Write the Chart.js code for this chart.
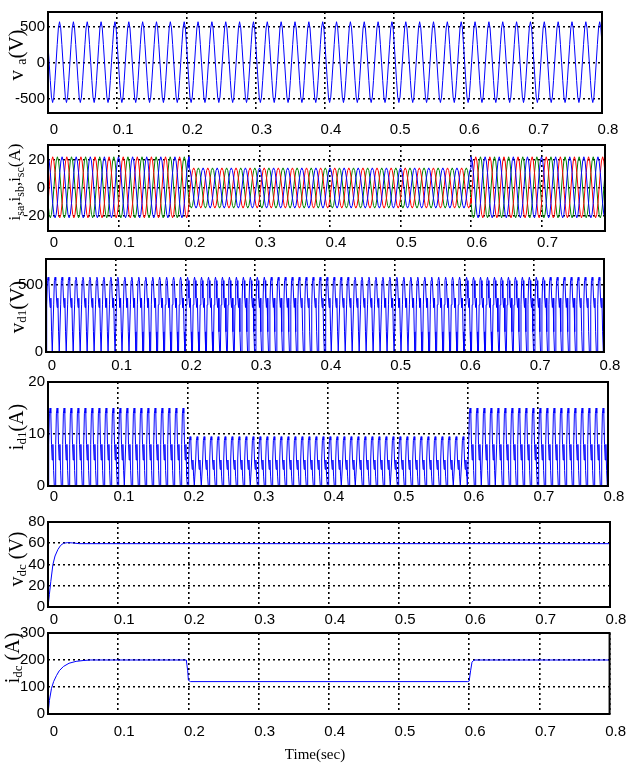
<!DOCTYPE html>
<html>
<head>
<meta charset="utf-8">
<script src="https://cdn.jsdelivr.net/npm/chart.js@4.4.1/dist/chart.umd.min.js"></script>
<style>
body { margin: 0; background: #fff; }
#wrap { position: relative; width: 629px; height: 766px; overflow: hidden; }
#wrap canvas { position: absolute; left: 0; }
#xlab { position: absolute; top: 746px; left: 0; width: 630px; text-align: center; font: 15px 'Liberation Serif', 'Times New Roman', serif; }
</style>
</head>
<body>
<div id="wrap">
  <canvas id="c1"></canvas>
  <canvas id="c2"></canvas>
  <canvas id="c3"></canvas>
  <canvas id="c4"></canvas>
  <canvas id="c5"></canvas>
  <canvas id="c6"></canvas>
  <div id="xlab">Time(sec)</div>
</div>
<script>
// ticks
var xTicks = [0, 0.1, 0.2, 0.3, 0.4, 0.5, 0.6, 0.7, 0.8];
var xTicksShort = [0, 0.1, 0.2, 0.3, 0.4, 0.5, 0.6, 0.7];

// v_a : one 20 ms cycle, 12 samples
var vaCycle = [0, 250, 480, 565, 480, 250, 0, -250, -480, -555, -480, -250];
var vaPhase = 5;
var vaTicks = [-500, 0, 500];

// isa, isb, isc : one 20 ms cycle, 12 samples, two load levels
var isCycleHigh = [0, 11, 19.5, 22.5, 19.5, 11, 0, -11, -19, -21.5, -19, -11];
var isCycleLow = [0, 7.3, 12.6, 14.5, 12.6, 7.3, 0, -7.3, -12.6, -14.5, -12.6, -7.3];
var isSegStart = [0, 0.2, 0.6];
var isSegEnd = [0.2, 0.6, 0.79];
var isSegLevel = ['high', 'low', 'high'];
var isPhase = [3, 11, 7]; // blue, red, green
var isTicks = [-20, 0, 20];

// v_d1 : one 10 ms cycle, 10 samples
var vd1Cycle = [0, 350, 530, 555, 530, 400, 330, 400, 150, 0];
var vd1Ticks = [0, 500];

// i_d1 : one 10 ms cycle, 10 samples, two load levels
var id1CycleHigh = [0, 8, 14, 15, 14, 8, 5, 8, 3, 0];
var id1CycleLow = [0, 5, 8.8, 9.5, 8.8, 5, 3.2, 5, 1.9, 0];
var id1SegStart = [0, 0.198, 0.598];
var id1SegEnd = [0.198, 0.598, 0.8];
var id1SegLevel = ['high', 'low', 'high'];
var id1Ticks = [0, 10, 20];

// v_dc
var vdcTime = [0, 0.002, 0.004, 0.007, 0.01, 0.014, 0.018, 0.022, 0.028, 0.035, 0.045, 0.8];
var vdcVal = [0, 12, 24, 40, 48, 54, 58, 60, 60.6, 60.3, 59.6, 59.6];
var vdcTicks = [0, 20, 40, 60, 80];

// i_dc
var idcTime = [0, 0.002, 0.005, 0.008, 0.012, 0.016, 0.022, 0.03, 0.04, 0.05, 0.06, 0.197, 0.199, 0.2, 0.203, 0.598, 0.6, 0.602, 0.604, 0.607, 0.8];
var idcVal = [0, 50, 95, 120, 142, 160, 176, 188, 195, 198, 200, 200, 160, 125, 120, 120, 122, 160, 192, 200, 200];
var idcTicks = [0, 100, 200, 300];

function tile(cycles, segStart, segEnd, segLevel, dt, phase) {
  var pts = [];
  for (var s = 0; s < segStart.length; s++) {
    var cyc = cycles[segLevel[s]];
    var i0 = Math.round(segStart[s] / dt), i1 = Math.round(segEnd[s] / dt);
    for (var i = i0; i <= i1; i++) {
      pts.push({x: i * dt, y: cyc[(i + phase) % cyc.length]});
    }
  }
  return pts;
}

function pairs(t, v) {
  return t.map(function (x, i) { return {x: x, y: v[i]}; });
}

var frame = {
  id: 'frame',
  afterDraw: function (chart) {
    var a = chart.chartArea, c = chart.ctx;
    c.save();
    c.strokeStyle = '#000';
    c.lineWidth = 2;
    c.strokeRect(a.left, a.top, a.right - a.left, a.bottom - a.top);
    c.restore();
  }
};

// y label with subscripts, rotated
var ylab = {
  id: 'ylab',
  afterDraw: function (chart, args, opts) {
    var c = chart.ctx, parts = opts.parts;
    if (!parts) return;
    c.save();
    c.translate(opts.cx, opts.cy);
    c.rotate(-Math.PI / 2);
    c.fillStyle = '#000';
    c.textBaseline = 'middle';
    var total = 0;
    parts.forEach(function (p) {
      c.font = p[1] + "px 'Liberation Serif', 'Times New Roman', serif";
      total += c.measureText(p[0]).width;
    });
    var x = -total / 2;
    parts.forEach(function (p) {
      c.font = p[1] + "px 'Liberation Serif', 'Times New Roman', serif";
      c.fillText(p[0], x, p[2] ? 5 : 0);
      x += c.measureText(p[0]).width;
    });
    c.restore();
  }
};

function makePanel(id, g, yMin, yMax, yTicks, xMax, xt, datasets, parts, lab) {
  var pad = Math.min(16, g.T);
  var cv = document.getElementById(id);
  cv.width = 629;
  cv.height = g.B - g.T + pad + 28;
  cv.style.top = (g.T - pad) + 'px';
  var top = g.T - pad;
  var fnt = {family: "'Liberation Sans', Arial, sans-serif", size: 15};
  return new Chart(cv.getContext('2d'), {
    type: 'line',
    data: {datasets: datasets},
    options: {
      responsive: false,
      animation: false,
      layout: {padding: {top: pad, right: 629 - g.R, left: 0, bottom: 0}},
      elements: {point: {radius: 0}, line: {borderWidth: 1, tension: 0}},
      plugins: {
        legend: {display: false},
        tooltip: {enabled: false},
        ylab: {parts: parts, cx: lab[0], cy: lab[1] - top}
      },
      scales: {
        x: {
          type: 'linear', min: 0, max: xMax,
          afterBuildTicks: function (s) { s.ticks = xt.map(function (v) { return {value: v}; }); },
          afterFit: function (s) { s.height = 28; },
          grid: {color: '#000', lineWidth: 1.6, drawTicks: false},
          border: {display: false, dash: [2, 3]},
          ticks: {color: '#000', font: fnt, padding: g.xPad, labelOffset: 6, maxRotation: 0, autoSkip: false,
            callback: function (v) { return String(+v.toFixed(1)); }}
        },
        y: {
          min: yMin, max: yMax,
          afterBuildTicks: function (s) { s.ticks = yTicks.map(function (v) { return {value: v}; }); },
          afterFit: function (s) { s.width = g.L; },
          grid: {color: '#000', lineWidth: 1.6, drawTicks: false},
          border: {display: false, dash: [2, 3]},
          ticks: {color: '#000', font: fnt, padding: 3, autoSkip: false}
        }
      }
    },
    plugins: [frame, ylab]
  });
}

var dtA = 0.02 / 12;
var dtD = 0.001;

makePanel('c1', {L: 48, R: 602, T: 10, B: 113, xPad: 8}, -700, 700, vaTicks, 0.8, xTicks,
  [{data: tile({a: vaCycle}, [0], [0.8], ['a'], dtA, vaPhase), borderColor: '#0000ff'}],
  [['v ', 21, 0], ['a', 14, 1], ['(V)', 21, 0]], [17, 55]);

var isColors = ['#0000ff', '#ff0000', '#008000'];
makePanel('c2', {L: 48, R: 605, T: 145, B: 231, xPad: 3}, -31, 31, isTicks, 0.79, xTicksShort,
  isPhase.map(function (ph, k) {
    return {data: tile({high: isCycleHigh, low: isCycleLow}, isSegStart, isSegEnd, isSegLevel, dtA, ph), borderColor: isColors[k]};
  }),
  [['i', 17, 0], ['sa', 12, 1], [',', 17, 0], ['i', 17, 0], ['sb', 12, 1], [',', 17, 0], ['i', 17, 0], ['sc', 12, 1], ['(A)', 17, 0]], [16, 182]);

makePanel('c3', {L: 46, R: 604, T: 259, B: 352, xPad: 5}, 0, 690, vd1Ticks, 0.8, xTicks,
  [{data: tile({a: vd1Cycle}, [0], [0.8], ['a'], dtD, 0), borderColor: '#0000ff'}],
  [['v', 21, 0], ['d1', 13, 1], ['(V)', 21, 0]], [18, 307]);

makePanel('c4', {L: 48, R: 608, T: 382, B: 486, xPad: 2}, 0, 20, id1Ticks, 0.8, xTicks,
  [{data: tile({high: id1CycleHigh, low: id1CycleLow}, id1SegStart, id1SegEnd, id1SegLevel, dtD, 0), borderColor: '#0000ff'}],
  [['i', 20, 0], ['d1', 13, 1], ['(A)', 20, 0]], [18, 427]);

makePanel('c5', {L: 48, R: 610, T: 522, B: 607, xPad: 4}, 0, 80, vdcTicks, 0.8, xTicks,
  [{data: pairs(vdcTime, vdcVal), borderColor: '#0000ff'}],
  [['v', 20, 0], ['dc', 13, 1], [' (V)', 20, 0]], [18, 559]);

makePanel('c6', {L: 48, R: 614, T: 633, B: 714, xPad: 9}, 0, 300, idcTicks, 0.8, xTicks,
  [{data: pairs(idcTime, idcVal), borderColor: '#0000ff'}],
  [['i', 20, 0], ['dc', 13, 1], [' (A)', 20, 0]], [14, 658]);
</script>
</body>
</html>
